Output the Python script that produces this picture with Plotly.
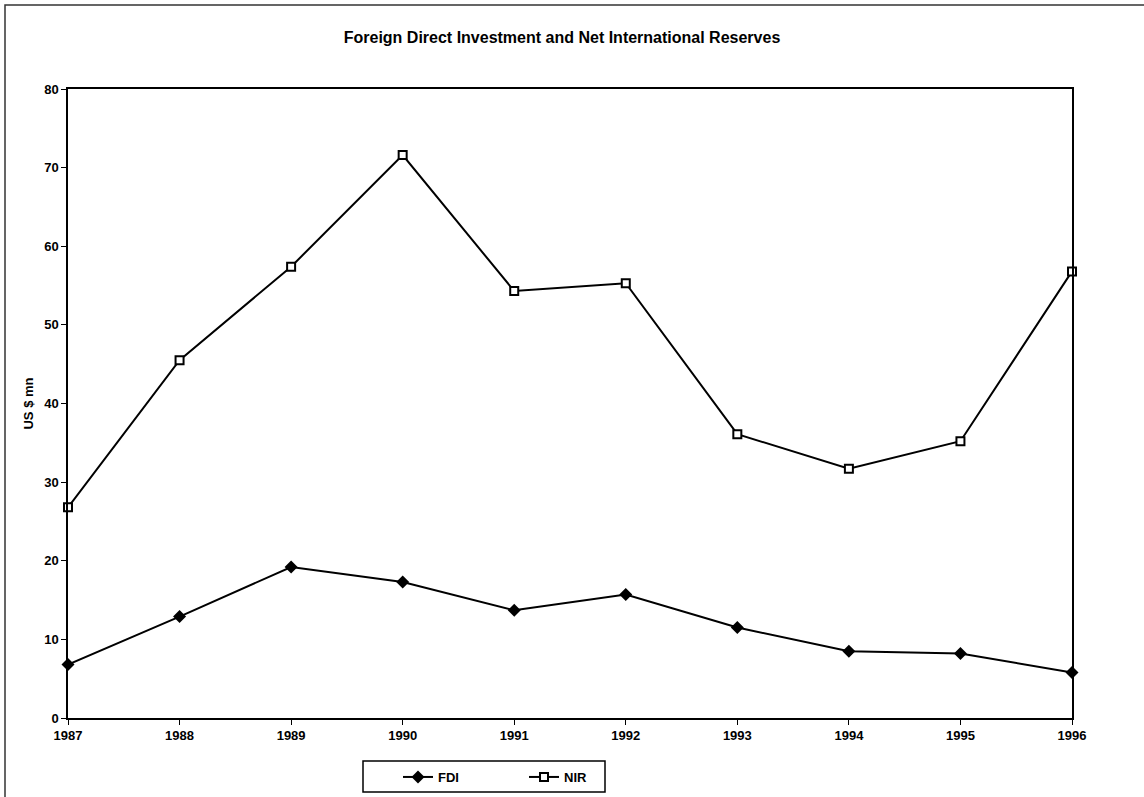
import plotly.graph_objects as go

years = [1987, 1988, 1989, 1990, 1991, 1992, 1993, 1994, 1995, 1996]
fdi = [6.8, 12.9, 19.2, 17.3, 13.7, 15.7, 11.5, 8.5, 8.2, 5.8]
nir = [26.8, 45.5, 57.4, 71.6, 54.3, 55.3, 36.1, 31.7, 35.2, 56.8]
y_ticks = [0, 10, 20, 30, 40, 50, 60, 70, 80]

title_text = "Foreign Direct Investment and Net International Reserves"
y_title = "US $ mn"

FONT = "Liberation Sans, Arial, sans-serif"

fig = go.Figure()
fig.add_trace(go.Scatter(
    x=years, y=fdi, name="FDI", mode="lines+markers",
    line=dict(color="black", width=2),
    marker=dict(symbol="diamond", size=10, color="black"),
    cliponaxis=False,
))
fig.add_trace(go.Scatter(
    x=years, y=nir, name="NIR", mode="lines+markers",
    line=dict(color="black", width=2),
    marker=dict(symbol="square", size=8, color="white",
                line=dict(color="black", width=2)),
    cliponaxis=False,
))

W, H = 1144, 797
L, R, T, B = 68, W - 1072, 89, H - 718
pw, ph = W - L - R, H - T - B

def px_to_paper_x(px):
    return (px - L) / pw

def px_to_paper_y(py):
    return (H - B - py) / ph

fig.update_layout(
    width=W, height=H,
    margin=dict(l=L, r=R, t=T, b=B, pad=0, autoexpand=False),
    paper_bgcolor="white", plot_bgcolor="white",
    font=dict(family=FONT, color="black", size=12),
    title=dict(text=title_text, x=562 / W, xanchor="center",
               y=1 - 37 / H, yanchor="middle",
               font=dict(size=16, weight="bold", family=FONT)),
    showlegend=True,
    legend=dict(orientation="h", x=px_to_paper_x(398), xanchor="left",
                y=px_to_paper_y(762), yanchor="top",
                borderwidth=0, bgcolor="rgba(0,0,0,0)",
                font=dict(size=13, weight="bold", family=FONT),
                entrywidth=81, itemwidth=30),
    xaxis=dict(range=[1987, 1996], tickmode="array", tickvals=years,
               ticktext=[str(y) for y in years],
               showgrid=False, zeroline=False,
               showline=True, linecolor="black", linewidth=1.5, mirror=True,
               ticks="outside", ticklen=5, tickcolor="black", tickwidth=1,
               tickfont=dict(size=13, weight="bold", family=FONT)),
    yaxis=dict(range=[0, 80], tickmode="array", tickvals=y_ticks,
               showgrid=False, zeroline=False,
               showline=True, linecolor="black", linewidth=1.5, mirror=True,
               ticks="outside", ticklen=5, tickcolor="black", tickwidth=1,
               tickfont=dict(size=13, weight="bold", family=FONT),
               title=dict(text=y_title, standoff=8,
                          font=dict(size=13, weight="bold", family=FONT))),
    shapes=[
        dict(type="rect", xref="paper", yref="paper",
             x0=px_to_paper_x(5), x1=px_to_paper_x(W + 20),
             y0=px_to_paper_y(H + 20), y1=px_to_paper_y(5),
             line=dict(color="#333333", width=1.5), layer="below"),
        dict(type="rect", xref="paper", yref="paper",
             x0=px_to_paper_x(363), x1=px_to_paper_x(605),
             y0=px_to_paper_y(792), y1=px_to_paper_y(761),
             line=dict(color="black", width=1.5), fillcolor="white",
             layer="below"),
    ],
)

fig.write_html("out.html", config={"displayModeBar": False},
               post_script="document.body.style.margin='0';")
